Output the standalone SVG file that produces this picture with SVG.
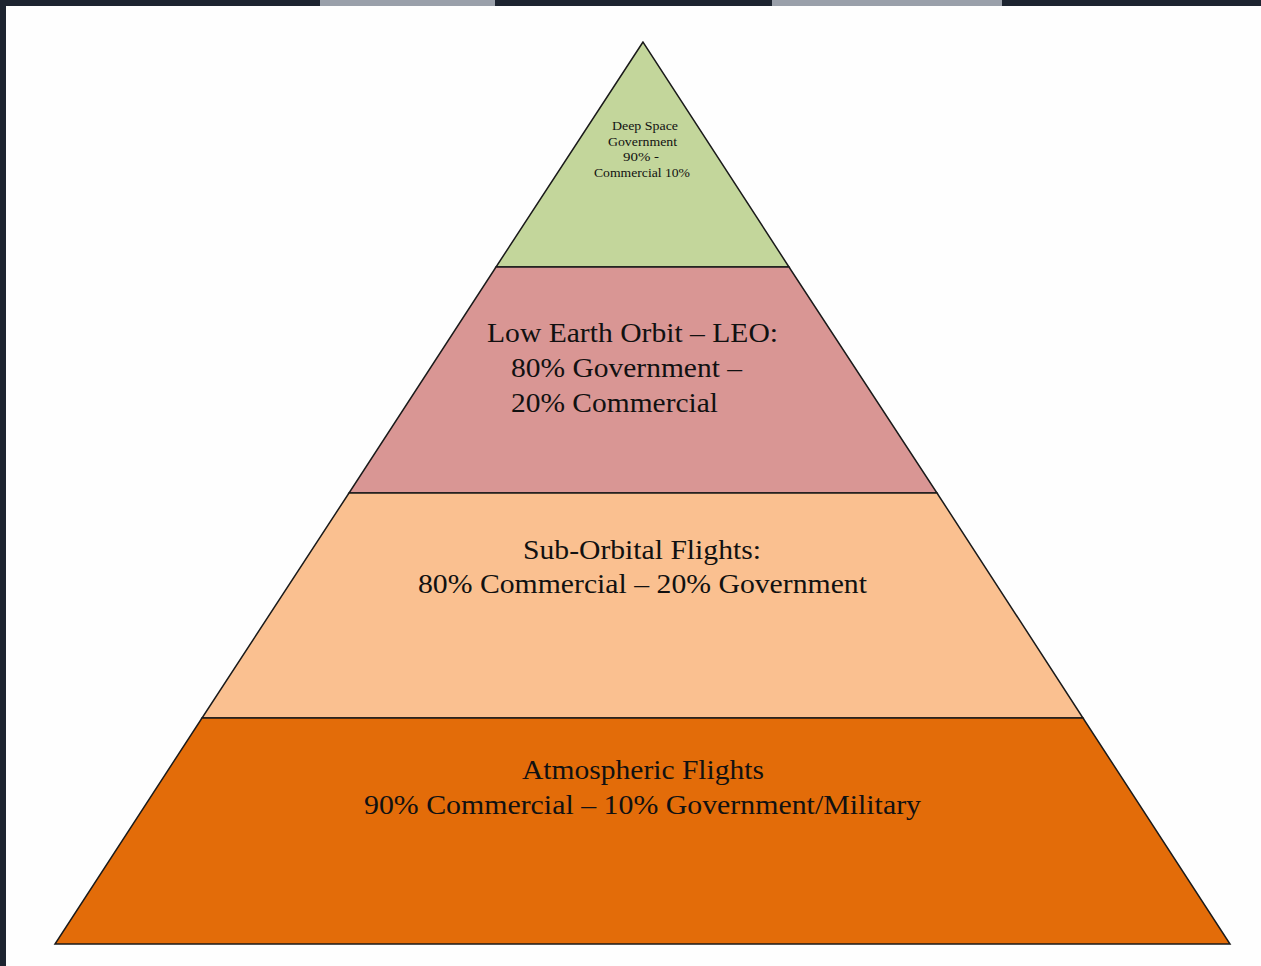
<svg xmlns="http://www.w3.org/2000/svg" width="1261" height="966" viewBox="0 0 1261 966">
<style>
.t{font-family:"Liberation Serif","Times New Roman",serif;fill:#111;}
.big{font-size:28px;}
.sm{font-size:12px;}
.lvl{stroke:#1a1a1a;stroke-width:1.5;}
</style>
<rect x="0" y="0" width="1261" height="966" fill="#1d2430"/>
<rect x="320" y="0" width="175" height="6" fill="#9aa0aa"/>
<rect x="772" y="0" width="230" height="6" fill="#9aa0aa"/>
<rect x="6" y="6" width="1255" height="960" fill="#fefefe"/>
<g id="deep-space">
<polygon class="lvl" points="643,42 496,267 789,267" fill="#c3d69b"/>
<text class="t sm" x="612" y="130" textLength="66" lengthAdjust="spacingAndGlyphs">Deep Space</text>
<text class="t sm" x="608" y="146" textLength="69" lengthAdjust="spacingAndGlyphs">Government</text>
<text class="t sm" x="623" y="161" textLength="36" lengthAdjust="spacingAndGlyphs">90% -</text>
<text class="t sm" x="594" y="177" textLength="96" lengthAdjust="spacingAndGlyphs">Commercial 10%</text>
</g>
<g id="leo">
<polygon class="lvl" points="496,267 789,267 937,493 349,493" fill="#d99694"/>
<text class="t big" x="487" y="342" textLength="291" lengthAdjust="spacingAndGlyphs">Low Earth Orbit – LEO:</text>
<text class="t big" x="511" y="377" textLength="231" lengthAdjust="spacingAndGlyphs">80% Government –</text>
<text class="t big" x="511" y="412" textLength="207" lengthAdjust="spacingAndGlyphs">20% Commercial</text>
</g>
<g id="sub-orbital">
<polygon class="lvl" points="349,493 937,493 1083,718 202,718" fill="#fac090"/>
<text class="t big" x="523" y="559" textLength="238" lengthAdjust="spacingAndGlyphs">Sub-Orbital Flights:</text>
<text class="t big" x="418" y="593" textLength="449" lengthAdjust="spacingAndGlyphs">80% Commercial – 20% Government</text>
</g>
<g id="atmospheric">
<polygon class="lvl" points="202,718 1083,718 1230,944 55,944" fill="#e36c09"/>
<text class="t big" x="522" y="779" textLength="242" lengthAdjust="spacingAndGlyphs">Atmospheric Flights</text>
<text class="t big" x="364" y="814" textLength="557" lengthAdjust="spacingAndGlyphs">90% Commercial – 10% Government/Military</text>
</g>
<g id="connectors"></g>
</svg>
